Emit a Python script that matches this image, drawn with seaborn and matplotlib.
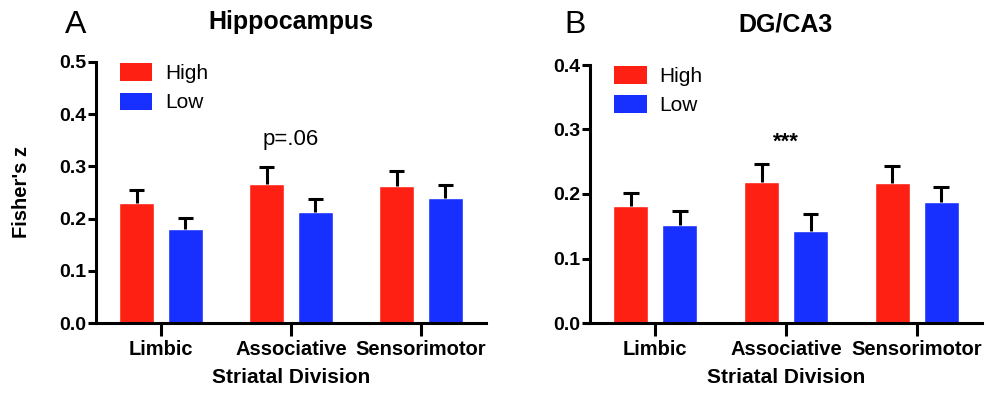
import matplotlib
matplotlib.use("Agg")
import matplotlib.pyplot as plt
import seaborn as sns
import pandas as pd
import numpy as np
from matplotlib.patches import Patch

divisions = ["Limbic", "Associative", "Sensorimotor"]
groups = ["High", "Low"]

hippo_high = [0.229, 0.267, 0.262]
hippo_low = [0.181, 0.212, 0.240]
hippo_high_err = [0.025, 0.031, 0.029]
hippo_low_err = [0.020, 0.026, 0.025]

dg_high = [0.181, 0.219, 0.217]
dg_low = [0.152, 0.143, 0.187]
dg_high_err = [0.020, 0.027, 0.026]
dg_low_err = [0.022, 0.026, 0.024]

panel_letters = ["A", "B"]
titles = ["Hippocampus", "DG/CA3"]
annotations = ["p=.06", "***"]
annotation_y = [0.352, 0.28]
ylims = [0.5, 0.4]

RED = "#FF2014"
BLUE = "#1830FF"

sns.set_style("white")
plt.rcParams['font.family'] = ['Liberation Sans', 'DejaVu Sans']
plt.rcParams['text.color'] = 'black'
plt.rcParams['axes.labelcolor'] = 'black'
plt.rcParams['xtick.color'] = 'black'
plt.rcParams['ytick.color'] = 'black'

fig = plt.figure(figsize=(9.89, 3.97), dpi=100)
ax1 = fig.add_axes([96/989, 1-323/397, 390/989, (323-62)/397])
ax2 = fig.add_axes([590/989, 1-323/397, 392/989, (323-65)/397])

datasets = [
    (hippo_high, hippo_low, hippo_high_err, hippo_low_err),
    (dg_high, dg_low, dg_high_err, dg_low_err),
]

for i, (ax, (hi, lo, hie, loe)) in enumerate(zip([ax1, ax2], datasets)):
    df = pd.DataFrame({
        "Division": divisions * 2,
        "Group": ["High"] * 3 + ["Low"] * 3,
        "Value": hi + lo,
        "Err": hie + loe,
    })
    sns.barplot(data=df, x="Division", y="Value", hue="Group", order=divisions,
                hue_order=groups, palette=[RED, BLUE], errorbar=None,
                width=0.75, gap=0.28, ax=ax, legend=False, saturation=1)
    # bars are drawn hue by hue: High (3), then Low (3)
    bars = [p for p in ax.patches if p.get_height() > 0]
    err_list = hie + loe
    for p, e in zip(bars, err_list):
        xc = p.get_x() + p.get_width() / 2
        h = p.get_height()
        cap = p.get_width() * 0.22
        ax.plot([xc, xc], [h, h + e], color="black", lw=2.2, zorder=3,
                solid_capstyle="butt")
        ax.plot([xc - cap, xc + cap], [h + e, h + e], color="black", lw=2.2,
                zorder=3, solid_capstyle="butt")

    ax.set_xlim(-0.5, 2.5)
    ax.set_ylim(0, ylims[i])
    ticks = np.arange(0, ylims[i] + 0.001, 0.1)
    ax.set_yticks(ticks)
    ax.set_yticklabels([f"{t:.1f}" for t in ticks], fontweight="bold", fontsize=14)
    ax.set_xticks(range(3))
    ax.set_xticklabels(divisions, fontweight="bold", fontsize=14.5)
    ax.tick_params(axis="y", direction="out", length=6, width=2.2, color="black",
                   left=True, pad=1)
    ax.tick_params(axis="x", direction="out", length=9, width=2.2, color="black",
                   bottom=True, pad=3)
    for s in ["top", "right"]:
        ax.spines[s].set_visible(False)
    for s in ["left", "bottom"]:
        ax.spines[s].set_linewidth(2.2)
        ax.spines[s].set_color("black")
    ax.set_xlabel("Striatal Division", fontweight="bold", fontsize=15, labelpad=7)
    if i == 0:
        ax.set_ylabel("Fisher's z", fontweight="bold", fontsize=14.5, labelpad=20)
    else:
        ax.set_ylabel("")
    ax.set_title(titles[i], fontweight="bold", fontsize=18, pad=24)

    handles = [Patch(facecolor=RED, edgecolor="none", label="High"),
               Patch(facecolor=BLUE, edgecolor="none", label="Low")]
    ax.legend(handles=handles, loc="upper left", bbox_to_anchor=(0.062, 0.995),
              frameon=False, fontsize=15, handlelength=1.55, handleheight=0.9,
              labelspacing=0.45, handletextpad=0.6, borderpad=0, borderaxespad=0)

ax1.text(1, annotation_y[0], annotations[0], ha="center", va="center", fontsize=16)
ax2.text(1, annotation_y[1], annotations[1], ha="center", va="center", fontsize=16,
         fontweight="bold")

fig.text(76/989, 1-25/397, panel_letters[0], ha="center", va="center", fontsize=23)
fig.text(575/989, 1-25/397, panel_letters[1], ha="center", va="center", fontsize=23)

fig.savefig("out.png", dpi=100)
